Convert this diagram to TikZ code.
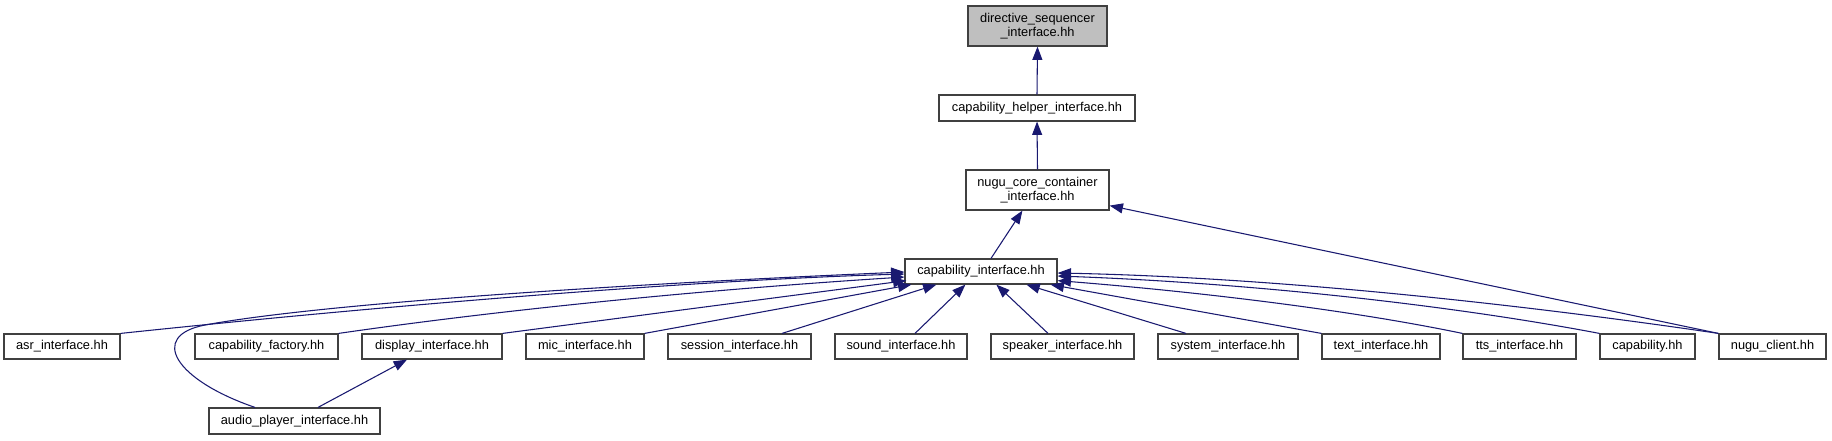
\documentclass[tikz,border=0pt]{standalone}
\usepackage{fontspec}
\setmainfont{Liberation Sans}
\usetikzlibrary{arrows.meta,calc}
\definecolor{edgeblue}{HTML}{191970}
\definecolor{boxline}{HTML}{404040}
\begin{document}
\begin{tikzpicture}[x=0.75pt,y=-0.75pt,
  file/.style={draw=boxline, line width=0.9pt, fill=white, inner sep=0pt,
    font=\fontsize{9.6}{10.9}\selectfont, align=center, minimum height=18.75pt},
  tall/.style={minimum height=30pt},
  edge/.style={draw=edgeblue, line width=0.8pt, {Triangle[length=10pt,width=7.5pt]}-}]
\useasboundingbox (0,0) rectangle (1832,440);
% nodes
\node[file, tall, fill={rgb,255:red,191;green,191;blue,191}, minimum width=104.25pt] (dir) at (1037.5,26) {directive\_sequencer\\\_interface.hh};
\node[file, minimum width=147pt, minimum height=19.5pt] (helper) at (1037,108) {capability\_helper\_interface.hh};
\node[file, tall, minimum width=107.25pt] (core) at (1037.5,190) {nugu\_core\_container\\\_interface.hh};
\node[file, minimum width=114pt] (cap) at (981,271.5) {capability\_interface.hh};
\node[file, minimum width=87pt] (asr) at (62,346.5) {asr\_interface.hh};
\node[file, minimum width=107.25pt] (capf) at (266.5,346.5) {capability\_factory.hh};
\node[file, minimum width=105pt] (disp) at (432,346.5) {display\_interface.hh};
\node[file, minimum width=88.5pt] (mic) at (585,346.5) {mic\_interface.hh};
\node[file, minimum width=107.25pt] (sess) at (739.5,346.5) {session\_interface.hh};
\node[file, minimum width=99pt] (sound) at (901,346.5) {sound\_interface.hh};
\node[file, minimum width=107.25pt] (spk) at (1062.5,346.5) {speaker\_interface.hh};
\node[file, minimum width=105pt] (sys) at (1228,346.5) {system\_interface.hh};
\node[file, minimum width=88.5pt] (text) at (1381,346.5) {text\_interface.hh};
\node[file, minimum width=84.75pt] (tts) at (1519.5,346.5) {tts\_interface.hh};
\node[file, minimum width=71.25pt] (capab) at (1647.5,346.5) {capability.hh};
\node[file, minimum width=80.25pt] (client) at (1772.5,346.5) {nugu\_client.hh};
\node[file, minimum width=128.25pt, minimum height=19.5pt] (audio) at (294.5,421) {audio\_player\_interface.hh};
% edges (arrow at the included file)
\draw[edge] (dir.south) -- (helper.north);
\draw[edge] (helper.south) -- (core.north);
\draw[edge] ($(core.south west)+(57,0)$) -- ($(cap.north)+(10,0)$);
\draw[edge] ($(core.south east)+(0,-5)$) -- (client.north west);
\draw[edge] ($(disp.south)+(-25,0)$) -- ($(audio.north)+(23.5,0)$);
\draw[edge] ($(cap.west)+(0,0.5)$) .. controls (650,283) and (330,302) .. (205,325)
   .. controls (148,336) and (175,380) .. ($(audio.north)+(-39.5,0)$);
\draw[edge] ($(cap.west)+(0,2.5)$) .. controls (700,280) and (400,304) .. (asr.north east);
\draw[edge] ($(cap.west)+(0,5.5)$) .. controls (700,290) and (500,310) .. (capf.north east);
\draw[edge] ($(cap.south west)+(2,-4)$) -- (disp.north east);
\draw[edge] ($(cap.south west)+(7,0)$) -- (mic.north east);
\draw[edge] ($(cap.south west)+(32,0)$) -- ($(sess.north)+(42.5,0)$);
\draw[edge] ($(cap.south west)+(61,0)$) -- ($(sound.north)+(14,0)$);
\draw[edge] ($(cap.south west)+(92,0)$) -- ($(spk.north)+(-14.5,0)$);
\draw[edge] ($(cap.south west)+(122,0)$) -- ($(sys.north)+(-42,0)$);
\draw[edge] ($(cap.south east)+(-7,0)$) -- (text.north west);
\draw[edge] ($(cap.south east)+(0,-4)$) .. controls (1200,292) and (1350,310) .. (tts.north west);
\draw[edge] ($(cap.east)+(0,4.5)$) .. controls (1250,283) and (1450,305) .. (capab.north west);
\draw[edge] ($(cap.east)+(0,1.5)$) .. controls (1300,278) and (1560,310) .. (client.north west);
\end{tikzpicture}
\end{document}
